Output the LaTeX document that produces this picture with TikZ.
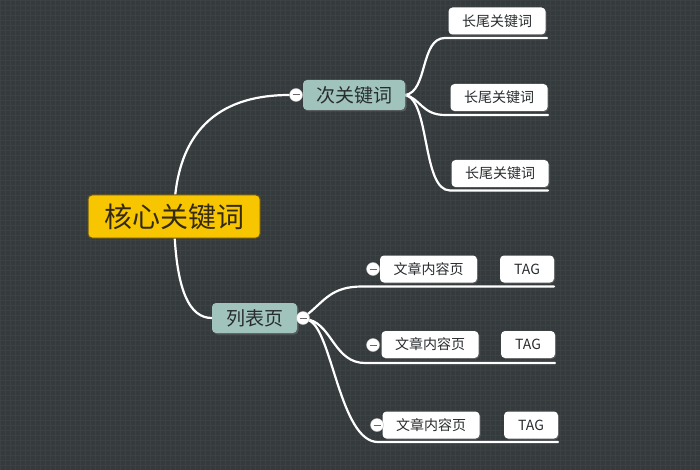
\documentclass[tikz,border=0pt]{standalone}
\usepackage{fontspec}
\setmainfont{Noto Sans CJK SC}
\usetikzlibrary{backgrounds}
\usetikzlibrary{shadows}

\definecolor{boardgray}{RGB}{53,58,61}
\definecolor{gridgray}{RGB}{60,65,68}
\definecolor{rootyellow}{RGB}{247,198,0}
\definecolor{rootedge}{RGB}{105,85,25}
\definecolor{subteal}{RGB}{160,195,188}
\definecolor{inkgray}{RGB}{40,44,46}
\definecolor{rootink}{RGB}{52,42,18}

\tikzset{
 rootbox/.style={draw=rootedge, line width=1pt, fill=rootyellow, rounded corners=4pt, minimum width=172pt, minimum height=43pt, inner sep=0pt, font=\fontsize{28}{30}\selectfont, text=rootink},
 subbox/.style={fill=subteal, rounded corners=4pt, minimum height=30pt, inner sep=0pt, font=\fontsize{19}{21}\selectfont, text=inkgray, drop shadow={opacity=0.45, shadow xshift=1.5pt, shadow yshift=-1.5pt}},
 leafbox/.style={fill=white, rounded corners=4pt, minimum height=27pt, inner sep=0pt, font=\fontsize{14}{16}\selectfont, text=inkgray, drop shadow={opacity=0.45, shadow xshift=1pt, shadow yshift=-1pt}},
 foldmark/.style={circle, fill=white, draw=gray!50, minimum size=13pt, inner sep=0pt, path picture={\draw[gray!80!black, line width=1pt] ([xshift=-3.5pt]path picture bounding box.center) -- ([xshift=3.5pt]path picture bounding box.center);}},
 branch/.style={white, line width=2.2pt, line cap=round}
}

\begin{document}
\begin{tikzpicture}[x=1pt, y=-1pt]

\useasboundingbox (0,0) rectangle (700,470);

% topics
\node[rootbox] (root) at (174,216.5) {核心关键词};
\node[subbox, minimum width=102pt] (sub) at (354,95) {次关键词};
\node[subbox, minimum width=85pt] (list) at (254.5,318) {列表页};

\node[leafbox, minimum width=97pt] (tail1) at (497,21) {长尾关键词};
\node[leafbox, minimum width=97pt] (tail2) at (499,97.5) {长尾关键词};
\node[leafbox, minimum width=97pt] (tail3) at (500,173.5) {长尾关键词};

\node[leafbox, minimum width=97pt] (art1) at (428.5,269) {文章内容页};
\node[leafbox, minimum width=54pt] (tag1) at (527,269) {TAG};
\node[leafbox, minimum width=97pt] (art2) at (430,344.5) {文章内容页};
\node[leafbox, minimum width=54pt] (tag2) at (528,344.5) {TAG};
\node[leafbox, minimum width=97pt] (art3) at (431,425) {文章内容页};
\node[leafbox, minimum width=54pt] (tag3) at (531,425) {TAG};

\node[foldmark] (foldsub) at (296,95) {};
\node[foldmark] (foldlist) at (303,318) {};
\node[foldmark] (foldart1) at (373,269) {};
\node[foldmark] (foldart2) at (373,345) {};
\node[foldmark] (foldart3) at (377,425) {};

% underline ends
\coordinate (tail1e) at (547,38);
\coordinate (tail2e) at (548,115);
\coordinate (tail3e) at (548,190.5);
\coordinate (art1e) at (554,286.5);
\coordinate (art2e) at (555,363);
\coordinate (art3e) at (558,442);

\begin{pgfonlayer}{background}
\fill[boardgray] (0,0) rectangle (700,470);
\draw[gridgray, line width=0.4pt, step=5pt] (0,0) grid (700,470);

\draw[branch] (root.center) .. controls (175,122) and (228,95) .. (foldsub);
\draw[branch] (root.center) .. controls (175,292) and (190,318) .. (list.west);

\draw[branch] (sub.east) .. controls (428,92) and (420,38) .. (445,38) -- (tail1e);
\draw[branch] (sub.east) .. controls (420,98) and (422,115) .. (445,115) -- (tail2e);
\draw[branch] (sub.east) .. controls (430,100) and (422,190.5) .. (450,190.5) -- (tail3e);

\draw[branch] (foldlist) .. controls (325,300) and (332,286.5) .. (362,286.5) -- (art1e);
\draw[branch] (foldlist) .. controls (332,326) and (335,363) .. (365,363) -- (art2e);
\draw[branch] (foldlist) .. controls (332,330) and (340,442) .. (378,442) -- (art3e);
\end{pgfonlayer}

\end{tikzpicture}
\end{document}
